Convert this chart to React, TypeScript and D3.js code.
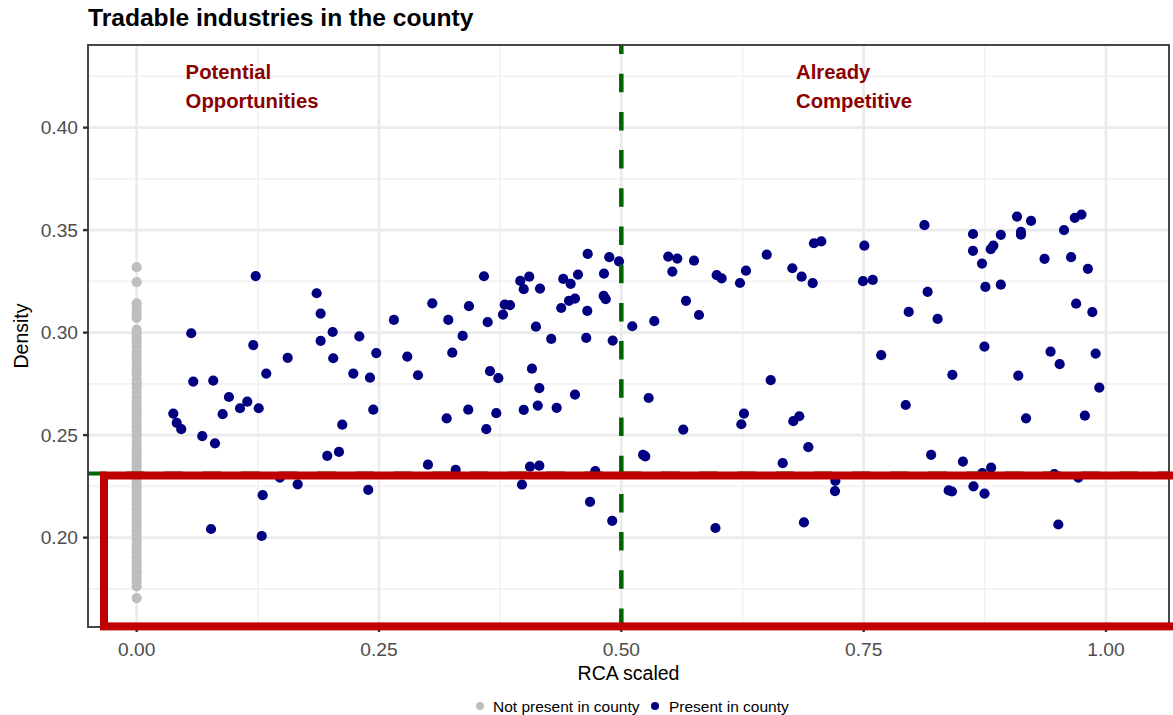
import React from "react";
import * as d3 from "d3";

const W = 1173;
const H = 715;
const FONT = "'Liberation Sans', Arial, Helvetica, sans-serif";

// ---- data ----
const title = "Tradable industries in the county";
const xLabel = "RCA scaled";
const yLabel = "Density";
const xTicks = [0, 0.25, 0.5, 0.75, 1.0];
const xTickLabels = ["0.00", "0.25", "0.50", "0.75", "1.00"];
const xMinor = [0.125, 0.375, 0.625, 0.875];
const yTicks = [0.2, 0.25, 0.3, 0.35, 0.4];
const yTickLabels = ["0.20", "0.25", "0.30", "0.35", "0.40"];
const yMinor = [0.175, 0.225, 0.275, 0.325, 0.375, 0.425];
const xDomain = [-0.0502, 1.065];
const yDomain = [0.1564, 0.4403];
const rcaThreshold = 0.5;
const densityThreshold = 0.2313;
const highlightBox = { x0: -0.0337, x1: 1.08, y0: 0.1567, y1: 0.2303 };
const legendLabels = ["Not present in county", "Present in county"];
const annotations = [
  { x: 0.0505, lines: ["Potential", "Opportunities"] },
  { x: 0.6802, lines: ["Already", "Competitive"] },
];

// Not present in county (RCA = 0)
const notPresentDensity = [
  0.3319, 0.3246, 0.3143, 0.3118, 0.3095, 0.3072, 0.3013, 0.2995, 0.2972, 0.2951,
  0.293, 0.2905, 0.2884, 0.2861, 0.2842, 0.2818, 0.2797, 0.2771, 0.2752, 0.2733,
  0.2709, 0.2688, 0.2664, 0.2642, 0.2621, 0.2605, 0.2583, 0.256, 0.2542, 0.2519,
  0.2498, 0.2476, 0.2455, 0.2431, 0.241, 0.2392, 0.237, 0.2351, 0.2328, 0.231,
  0.2287, 0.2266, 0.2245, 0.2224, 0.2203, 0.2182, 0.2161, 0.214, 0.2118, 0.2097,
  0.2075, 0.2054, 0.2033, 0.2012, 0.199, 0.1969, 0.1948, 0.1927, 0.1906, 0.1884,
  0.1863, 0.1842, 0.1828, 0.1805, 0.1786, 0.1762, 0.1705,
];

// Present in county
const presentRCA = [
  0.0378, 0.0413, 0.046, 0.0563, 0.0584, 0.0677, 0.0767, 0.079, 0.0808, 0.0887,
  0.0952, 0.1066, 0.1141, 0.1203, 0.1228, 0.1259, 0.13, 0.129, 0.1337, 0.1478,
  0.1558, 0.1661, 0.1857, 0.1898, 0.1898, 0.1966, 0.2022, 0.2028, 0.2087, 0.2121,
  0.2235, 0.2297, 0.2389, 0.2407, 0.2441, 0.2472, 0.2654, 0.2792, 0.2902, 0.3005,
  0.305, 0.3198, 0.3215, 0.3256, 0.3291, 0.3363, 0.3421, 0.3428, 0.3583, 0.3607,
  0.3621, 0.3645, 0.371, 0.3731, 0.3779, 0.3797, 0.3851, 0.3958, 0.3975, 0.3993,
  0.3993, 0.405, 0.4058, 0.4078, 0.4119, 0.4138, 0.4154, 0.4154, 0.4161, 0.4277,
  0.4333, 0.438, 0.4401, 0.446, 0.4477, 0.4522, 0.4522, 0.4553, 0.4638, 0.4649,
  0.4653, 0.4677, 0.4731, 0.4818, 0.4821, 0.4839, 0.4876, 0.4906, 0.4911, 0.4976,
  0.5113, 0.5224, 0.5247, 0.5282, 0.534, 0.5484, 0.5526, 0.5577, 0.5639, 0.5667,
  0.575, 0.5801, 0.5971, 0.5984, 0.6035, 0.6224, 0.6238, 0.6265, 0.6286, 0.65,
  0.6541, 0.6665, 0.6764, 0.6774, 0.6836, 0.686, 0.6884, 0.6929, 0.6974, 0.6987,
  0.7063, 0.7204, 0.7208, 0.7493, 0.7507, 0.7594, 0.7681, 0.7934, 0.7965, 0.8127,
  0.816, 0.8196, 0.8263, 0.8377, 0.8411, 0.8415, 0.8524, 0.8628, 0.8628, 0.8633,
  0.8721, 0.8724, 0.8746, 0.8747, 0.8756, 0.8811, 0.8815, 0.8838, 0.8915, 0.8915,
  0.9082, 0.9095, 0.9123, 0.9123, 0.9175, 0.9227, 0.9366, 0.9428, 0.9467, 0.9508,
  0.9522, 0.9567, 0.964, 0.9678, 0.9692, 0.9715, 0.9747, 0.9782, 0.9813, 0.9859,
  0.9893, 0.9931,
];
const presentDensity = [
  0.2605, 0.256, 0.2529, 0.2997, 0.2761, 0.2495, 0.2042, 0.2766, 0.246, 0.2602,
  0.2686, 0.2631, 0.2663, 0.2939, 0.3276, 0.2631, 0.2207, 0.2008, 0.28, 0.2293,
  0.2877, 0.226, 0.3192, 0.3093, 0.296, 0.2399, 0.3003, 0.2875, 0.2418, 0.2551,
  0.28, 0.2982, 0.2233, 0.278, 0.2624, 0.29, 0.3062, 0.2883, 0.2792, 0.2356,
  0.3143, 0.2582, 0.3062, 0.2902, 0.233, 0.2984, 0.2624, 0.3129, 0.3275, 0.2529,
  0.3051, 0.2812, 0.2607, 0.2778, 0.3088, 0.3137, 0.3134, 0.3252, 0.2259, 0.3212,
  0.2623, 0.3273, 0.2346, 0.2824, 0.3029, 0.2644, 0.2729, 0.2351, 0.3215, 0.2969,
  0.2633, 0.312, 0.3262, 0.3155, 0.3238, 0.3166, 0.2698, 0.3283, 0.2974, 0.3106,
  0.3384, 0.2174, 0.2324, 0.3179, 0.3288, 0.3163, 0.3368, 0.2082, 0.2961, 0.3348,
  0.3031, 0.2404, 0.2396, 0.2681, 0.3056, 0.3371, 0.3298, 0.3361, 0.2527, 0.3155,
  0.3351, 0.3086, 0.2047, 0.328, 0.3265, 0.3242, 0.2553, 0.2605, 0.3302, 0.338,
  0.2768, 0.2363, 0.3314, 0.2568, 0.2592, 0.3273, 0.2074, 0.2441, 0.3241, 0.3436,
  0.3445, 0.2227, 0.2277, 0.3251, 0.3424, 0.3257, 0.289, 0.2647, 0.3101, 0.3524,
  0.3199, 0.2404, 0.3067, 0.223, 0.2225, 0.2794, 0.2371, 0.3481, 0.3399, 0.225,
  0.3337, 0.2315, 0.2932, 0.2215, 0.3223, 0.3407, 0.2341, 0.3424, 0.3477, 0.3234,
  0.3566, 0.279, 0.3491, 0.3478, 0.2582, 0.3545, 0.336, 0.2907, 0.231, 0.2064,
  0.2846, 0.35, 0.3368, 0.356, 0.3141, 0.2293, 0.3576, 0.2595, 0.3311, 0.31,
  0.2898, 0.2732,
];

const GREY = "#bebebe";
const NAVY = "#000080";
const RED = "#c00000";
const GREEN = "#006400";
const DARKRED = "#8b0000";

export default function App() {
  const panel = { left: 88, right: 1169, top: 45, bottom: 627 };
  const x = d3.scaleLinear().domain(xDomain).range([panel.left, panel.right]);
  const y = d3.scaleLinear().domain(yDomain).range([panel.bottom, panel.top]);
  const r = 5.1;

  return (
    <div style={{ position: "absolute", left: 0, top: 0 }}>
      <svg width={W} height={H} style={{ display: "block", background: "#fff" }} fontFamily={FONT}>
        <rect x={0} y={0} width={W} height={H} fill="#fff" />
        {/* title */}
        <text x={panel.left} y={26} fontSize={24.6} fontWeight="bold" fill="#000">
          {title}
        </text>
        {/* grid minor */}
        {xMinor.map((v) => (
          <line key={"xm" + v} x1={x(v)} x2={x(v)} y1={panel.top} y2={panel.bottom} stroke="#f2f2f2" strokeWidth={1.6} />
        ))}
        {yMinor.map((v) => (
          <line key={"ym" + v} x1={panel.left} x2={panel.right} y1={y(v)} y2={y(v)} stroke="#f2f2f2" strokeWidth={1.6} />
        ))}
        {/* grid major */}
        {xTicks.map((v) => (
          <line key={"xg" + v} x1={x(v)} x2={x(v)} y1={panel.top} y2={panel.bottom} stroke="#ebebeb" strokeWidth={2.8} />
        ))}
        {yTicks.map((v) => (
          <line key={"yg" + v} x1={panel.left} x2={panel.right} y1={y(v)} y2={y(v)} stroke="#ebebeb" strokeWidth={2.8} />
        ))}
        {/* points */}
        {notPresentDensity.map((d, i) => (
          <circle key={"g" + i} cx={x(0)} cy={y(d)} r={r} fill={GREY} />
        ))}
        {presentRCA.map((v, i) => (
          <circle key={"n" + i} cx={x(v)} cy={y(presentDensity[i])} r={r} fill={NAVY} />
        ))}
        {/* threshold lines */}
        <line x1={x(rcaThreshold)} x2={x(rcaThreshold)} y1={panel.bottom} y2={panel.top} stroke={GREEN} strokeWidth={4.5} strokeDasharray="18.5 19.7" />
        <line x1={panel.left} x2={panel.right} y1={y(densityThreshold)} y2={y(densityThreshold)} stroke={GREEN} strokeWidth={4} strokeDasharray="18.5 19.7" />
        {/* annotations */}
        {annotations.map((a, i) => (
          <text key={"a" + i} x={x(a.x)} fontSize={20.3} fontWeight="bold" fill={DARKRED}>
            <tspan x={x(a.x)} y={78.5}>{a.lines[0]}</tspan>
            <tspan x={x(a.x)} y={107.5}>{a.lines[1]}</tspan>
          </text>
        ))}
        {/* panel border */}
        <rect x={panel.left} y={panel.top} width={panel.right - panel.left} height={panel.bottom - panel.top} fill="none" stroke="#333" strokeWidth={1.8} />
        {/* x axis */}
        {xTicks.map((v, i) => (
          <g key={"xt" + v}>
            <line x1={x(v)} x2={x(v)} y1={panel.bottom} y2={panel.bottom + 5} stroke="#333" strokeWidth={2.4} />
            <text x={x(v)} y={655.5} fontSize={19.2} fill="#4d4d4d" textAnchor="middle">
              {xTickLabels[i]}
            </text>
          </g>
        ))}
        {/* y axis */}
        {yTicks.map((v, i) => (
          <g key={"yt" + v}>
            <line x1={panel.left - 5} x2={panel.left} y1={y(v)} y2={y(v)} stroke="#333" strokeWidth={2.4} />
            <text x={78} y={y(v)} dy="0.35em" fontSize={19.2} fill="#4d4d4d" textAnchor="end">
              {yTickLabels[i]}
            </text>
          </g>
        ))}
        <text x={(panel.left + panel.right) / 2} y={680} fontSize={19.5} textAnchor="middle" fill="#000">
          {xLabel}
        </text>
        <text transform={`translate(28,${(panel.top + panel.bottom) / 2}) rotate(-90)`} fontSize={19.5} textAnchor="middle" fill="#000">
          {yLabel}
        </text>
        {/* highlight box */}
        <rect
          x={x(highlightBox.x0)}
          y={y(highlightBox.y1)}
          width={x(highlightBox.x1) - x(highlightBox.x0)}
          height={y(highlightBox.y0) - y(highlightBox.y1)}
          fill="none"
          stroke={RED}
          strokeWidth={8}
        />
        {/* legend */}
        <circle cx={480} cy={706} r={4} fill={GREY} />
        <text x={493} y={712} fontSize={15.5} fill="#000">{legendLabels[0]}</text>
        <circle cx={655} cy={706} r={4} fill={NAVY} />
        <text x={669} y={712} fontSize={15.5} fill="#000">{legendLabels[1]}</text>
      </svg>
    </div>
  );
}
